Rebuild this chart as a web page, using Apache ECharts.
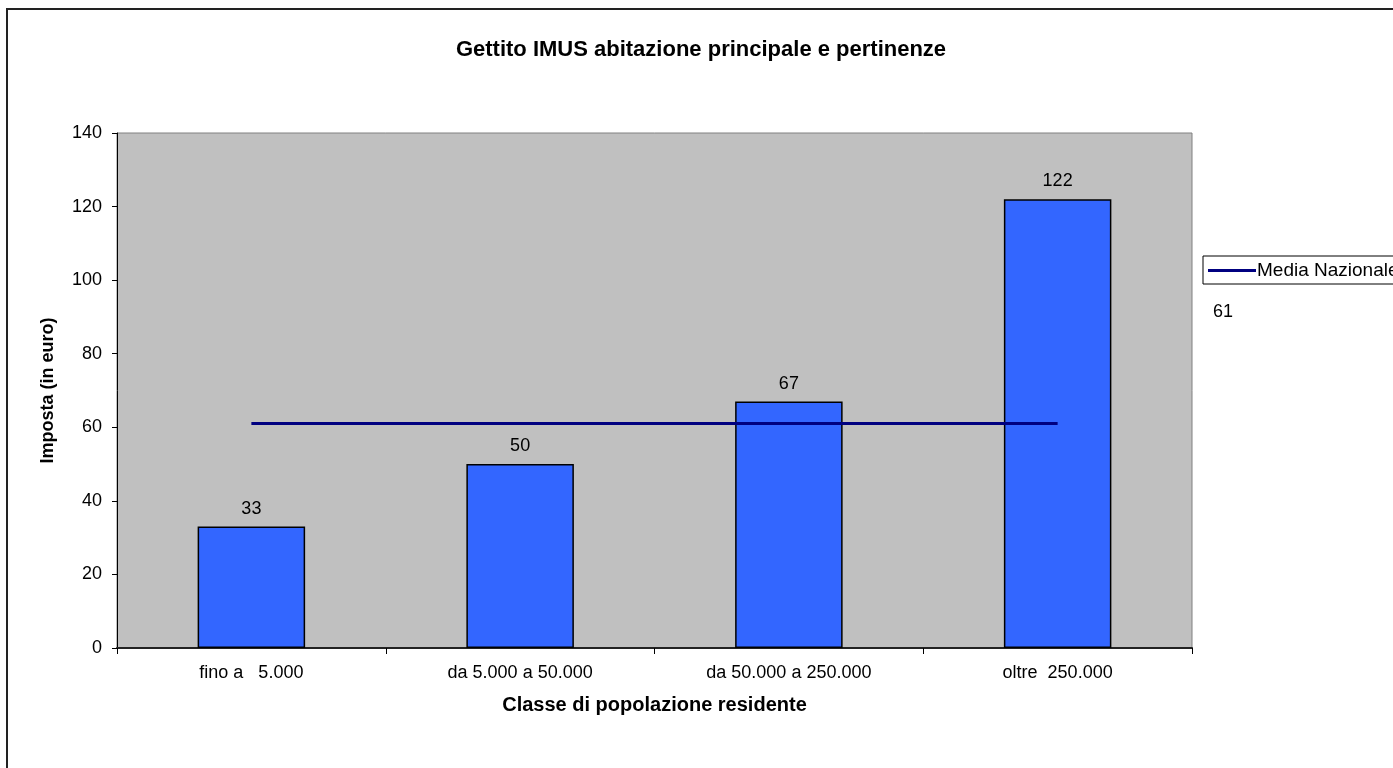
<!DOCTYPE html>
<html lang="it">

<head>
    <meta charset="UTF-8">
    <title>Gettito IMUS</title>
    <style>
        html, body {
            margin: 0;
            padding: 0;
            background: #fff;
        }

        #main {
            width: 1393px;
            height: 768px;
        }
    </style>
</head>

<body>
    <div id="main"></div>
</body>

<script src="https://cdn.jsdelivr.net/npm/echarts@6/dist/echarts.min.js"></script>
<script>
    // classi di popolazione
    var categories = ['fino a   5.000', 'da 5.000 a 50.000', 'da 50.000 a 250.000', 'oltre  250.000'];
    // gettito medio per classe (euro)
    var gettito = [33, 50, 67, 122];
    // media nazionale
    var media = [61, 61, 61, 61];
    var mediaLabel = '61';

    var font = 'Liberation Sans, Arial, sans-serif';
    var myChart = echarts.init(document.getElementById('main'));

    myChart.setOption({
        animation: false,
        backgroundColor: '#fff',
        title: {
            text: 'Gettito IMUS abitazione principale e pertinenze',
            left: 696,
            textAlign: 'center',
            top: 34,
            textStyle: {
                fontFamily: font,
                fontSize: 22,
                fontWeight: 'bold',
                color: '#000'
            }
        },
        legend: {
            data: ['Media Nazionale'],
            left: 1203,
            top: 256,
            orient: 'vertical',
            backgroundColor: '#fff',
            borderColor: '#000',
            borderWidth: 1,
            borderRadius: 0,
            padding: [5, 60, 4, 5],
            itemWidth: 48,
            itemHeight: 3,
            itemGap: 0,
            icon: 'rect',
            textStyle: {
                fontFamily: font,
                fontSize: 19,
                color: '#000',
                padding: [0, 0, 0, -4]
            }
        },
        graphic: [{
            type: 'rect',
            shape: { x: 7, y: 9, width: 1500, height: 900 },
            style: { fill: 'none', stroke: '#222', lineWidth: 2 },
            silent: true
        }, {
            type: 'text',
            left: 1213,
            top: 303,
            style: {
                text: mediaLabel,
                font: '18px ' + font,
                fill: '#000'
            }
        }],
        grid: {
            left: 117,
            top: 133,
            right: 201,
            bottom: 120,
            show: true,
            backgroundColor: '#c0c0c0',
            borderColor: '#808080',
            borderWidth: 1
        },
        xAxis: {
            type: 'category',
            data: categories,
            name: 'Classe di popolazione residente',
            nameLocation: 'middle',
            nameGap: 47,
            nameTextStyle: {
                fontFamily: font,
                fontSize: 20,
                fontWeight: 'bold',
                color: '#000'
            },
            axisLine: {
                lineStyle: { color: '#222', width: 2 }
            },
            axisTick: {
                show: true,
                length: 6,
                lineStyle: { color: '#000' }
            },
            axisLabel: {
                fontFamily: font,
                fontSize: 18,
                color: '#000',
                margin: 16
            }
        },
        yAxis: {
            type: 'value',
            min: 0,
            max: 140,
            interval: 20,
            name: 'Imposta (in euro)',
            nameLocation: 'middle',
            nameGap: 60,
            nameTextStyle: {
                fontFamily: font,
                fontSize: 18,
                fontWeight: 'bold',
                color: '#000'
            },
            axisLine: {
                show: true,
                lineStyle: { color: '#000', width: 1 }
            },
            axisTick: {
                show: true,
                length: 5,
                lineStyle: { color: '#000' }
            },
            axisLabel: {
                fontFamily: font,
                fontSize: 18,
                color: '#000',
                margin: 15
            },
            splitLine: { show: false }
        },
        series: [{
            name: 'Gettito',
            type: 'bar',
            data: gettito,
            barWidth: '40%',
            itemStyle: {
                color: '#3366ff',
                borderColor: '#000',
                borderWidth: 1.5
            },
            label: {
                show: true,
                position: 'top',
                distance: 9,
                fontFamily: font,
                fontSize: 18,
                color: '#000'
            }
        }, {
            name: 'Media Nazionale',
            type: 'line',
            data: media,
            symbol: 'none',
            itemStyle: { color: '#000080' },
            lineStyle: { color: '#000080', width: 3 },
            z: 3
        }]
    });
</script>

</html>
